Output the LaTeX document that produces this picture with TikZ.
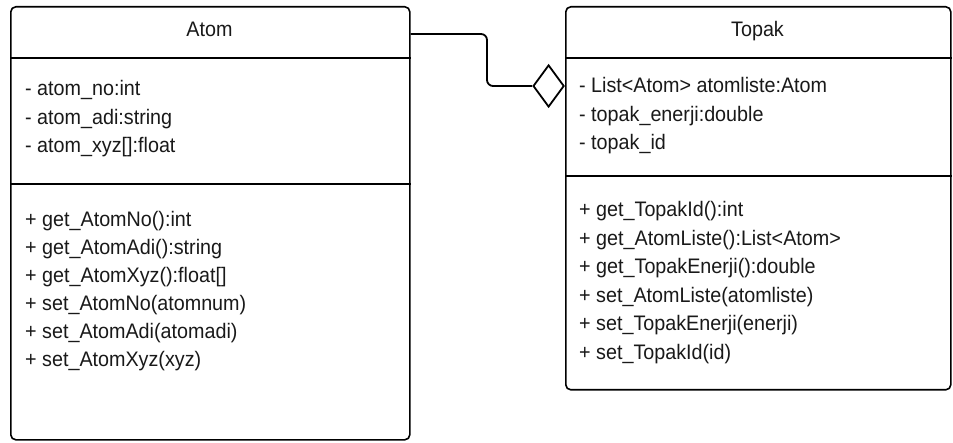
\documentclass[tikz,border=0pt]{standalone}
\usepackage{fontspec}
\setmainfont[FakeStretch=0.94]{Liberation Sans}
\usetikzlibrary{shapes.geometric}
\begin{document}
\begin{tikzpicture}[x=1pt,y=-1pt,
  classbox/.style={draw=black,line width=1.6pt,rounded corners=5pt,inner sep=0pt,anchor=north west},
  sepline/.style={draw=black,line width=1.4pt},
  conn/.style={draw=black,line width=1.8pt,rounded corners=6pt},
  aggr/.style={draw=black,fill=white,line width=1.8pt,shape=diamond,inner sep=0pt,minimum width=31pt,minimum height=42pt},
  txt/.style={anchor=base west,inner sep=0pt,font=\fontsize{21}{25}\selectfont,text=black!90},
  head/.style={anchor=base,inner sep=0pt,font=\fontsize{21}{25}\selectfont,text=black!90}]
\useasboundingbox[fill=white] (0,0) rectangle (953,443);

% Atom class
\node[classbox,minimum width=399pt,minimum height=433pt] (atom) at (10,6) {};
\draw[sepline] (atom.west |- 0,58) -- (atom.east |- 0,58);
\draw[sepline] (atom.west |- 0,184) -- (atom.east |- 0,184);
\node[head] (atomname) at (209.5,37) {Atom};
\node[txt] (a1) at (25,96) {- atom\_no:int};
\node[txt] (a2) at (25,124.5) {- atom\_adi:string};
\node[txt] (a3) at (25,153) {- atom\_xyz[]:float};
\node[txt] (m1) at (25,227) {+ get\_AtomNo():int};
\node[txt] (m2) at (25,255) {+ get\_AtomAdi():string};
\node[txt] (m3) at (25,283) {+ get\_AtomXyz():float[]};
\node[txt] (m4) at (25,311) {+ set\_AtomNo(atomnum)};
\node[txt] (m5) at (25,339) {+ set\_AtomAdi(atomadi)};
\node[txt] (m6) at (25,367) {+ set\_AtomXyz(xyz)};

% Topak class
\node[classbox,minimum width=385pt,minimum height=383pt] (topak) at (565,6) {};
\draw[sepline] (topak.west |- 0,58) -- (topak.east |- 0,58);
\draw[sepline] (topak.west |- 0,176) -- (topak.east |- 0,176);
\node[head] (topakname) at (757.5,37) {Topak};
\node[txt] (b1) at (579,93) {- List<Atom> atomliste:Atom};
\node[txt] (b2) at (579,121.5) {- topak\_enerji:double};
\node[txt] (b3) at (579,150) {- topak\_id};
\node[txt] (n1) at (579,217) {+ get\_TopakId():int};
\node[txt] (n2) at (579,245.5) {+ get\_AtomListe():List<Atom>};
\node[txt] (n3) at (579,274) {+ get\_TopakEnerji():double};
\node[txt] (n4) at (579,302.5) {+ set\_AtomListe(atomliste)};
\node[txt] (n5) at (579,331) {+ set\_TopakEnerji(enerji)};
\node[txt] (n6) at (579,359.5) {+ set\_TopakId(id)};

% aggregation connector
\node[aggr,anchor=east] (agg) at ([yshift=-80pt]topak.north west) {};
\coordinate (bend) at (487,60);
\draw[conn] ([yshift=-28pt]atom.north east) -| (bend) |- (agg.west);
\end{tikzpicture}
\end{document}
